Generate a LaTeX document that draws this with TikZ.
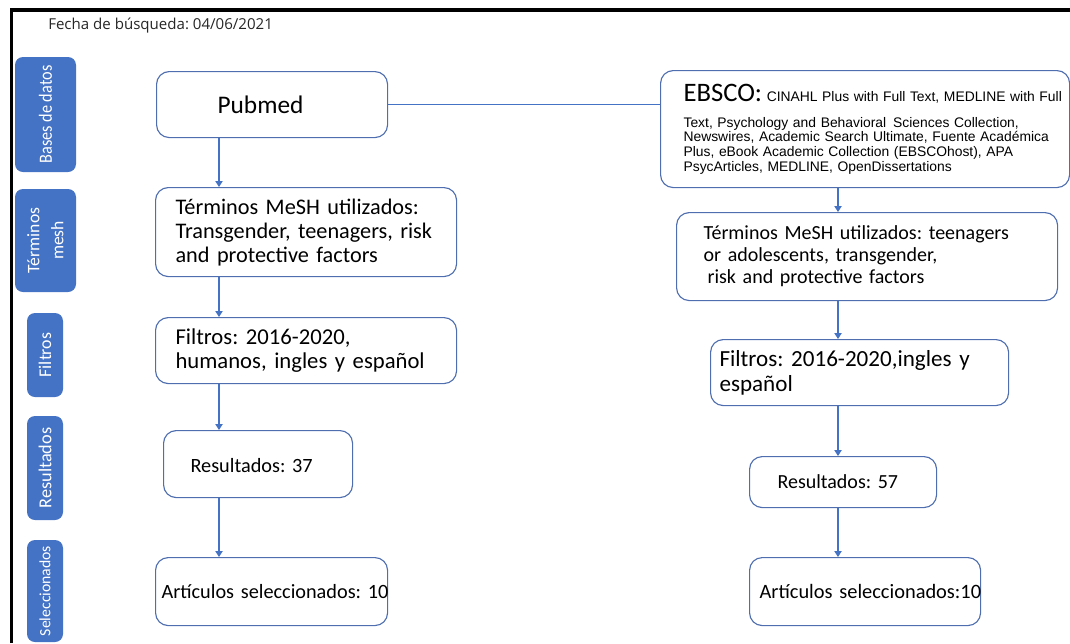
\documentclass[tikz,border=0pt]{standalone}
\usepackage{fontspec}
\usepackage{graphicx}
\setmainfont{Carlito}
\newfontfamily\arialf{Liberation Sans}
\newfontfamily\opensf{Open Sans}
\usetikzlibrary{arrows.meta}
\newcommand{\PX}{0.75pt}
\definecolor{boxblue}{RGB}{78,110,175}
\definecolor{arrowblue}{RGB}{68,114,196}
\definecolor{sideblue}{RGB}{68,114,196}
\tikzset{
  box/.style={draw=boxblue, line width=0.85pt, rounded corners=9.5pt, anchor=north west,
    inner ysep=0pt, align=left, text=black},
  side/.style={fill=sideblue, rounded corners=6pt, inner sep=0pt, text=white, align=center, rotate=90},
  arr/.style={draw=arrowblue, line width=0.8pt, -{Triangle[width=5.5pt,length=4.5pt]}},
  link/.style={draw=arrowblue, line width=0.8pt},
}
\frenchspacing
\begin{document}
\frenchspacing
\begin{tikzpicture}[x=0.75pt,y=-0.75pt]
\useasboundingbox (0,0) rectangle (1070,643);
% frame
\draw[line width=2.3pt] (11.7,643) -- (11.7,10) -- (1070,10);
% date
\node[anchor=west, inner sep=0pt, font=\opensf\fontsize{11.3}{13}\selectfont, text=black!85] (fecha) at (48,26) {Fecha de búsqueda: 04/06/2021};

% sidebar
\node[side, minimum width={115*\PX}, minimum height={61*\PX}, font=\fontsize{14}{16}\selectfont] (sb1) at (45.5,114.5)
  {\scalebox{0.87}[1]{Bases de datos}};
\node[side, minimum width={103*\PX}, minimum height={61*\PX}, font=\fontsize{13.2}{18}\selectfont] (sb2) at (45.5,240.5)
  {Términos\\mesh};
\node[side, minimum width={84*\PX}, minimum height={36*\PX}, font=\fontsize{13.4}{15}\selectfont] (sb3) at (45,355)
  {Filtros};
\node[side, minimum width={104*\PX}, minimum height={36*\PX}, font=\fontsize{13.7}{15}\selectfont] (sb4) at (45,468)
  {Resultados};
\node[side, minimum width={102*\PX}, minimum height={36*\PX}, font=\fontsize{11.8}{14}\selectfont] (sb5) at (45,591)
  {Seleccionados};

% left column
\node[box, minimum width={231*\PX}, minimum height={66*\PX}, inner xsep={61*\PX}, text width={109*\PX},
  font=\fontsize{19}{22}\selectfont] (pub) at (156,71) {\mbox{Pubmed}};
\node[box, minimum width={301*\PX}, minimum height={89*\PX}, inner xsep={20*\PX}, text width={261*\PX},
  font=\fontsize{16.7}{18}\selectfont] (terml) at (155,187)
  {\mbox{Términos MeSH utilizados:}\\\mbox{Transgender, teenagers, risk}\\\mbox{and protective factors}};
\node[box, minimum width={301*\PX}, minimum height={66*\PX}, inner xsep={20*\PX}, text width={261*\PX},
  font=\fontsize{17}{17.5}\selectfont] (filtl) at (155,317)
  {\mbox{Filtros: 2016-2020,}\\\mbox{humanos, ingles y español}};
\node[box, minimum width={189*\PX}, minimum height={67*\PX}, inner xsep={27*\PX}, text width={135*\PX},
  font=\fontsize{15.2}{17}\selectfont] (resl) at (163,430) {\mbox{\raisebox{-6.2pt}[0pt][0pt]{Resultados: 37}}};
\node[box, minimum width={232*\PX}, minimum height={68*\PX}, inner xsep={6*\PX}, text width={220*\PX},
  font=\fontsize{15.2}{17}\selectfont] (artl) at (155,557) {\mbox{Artículos seleccionados: 10}};

% right column
\node[box, minimum width={409*\PX}, minimum height={117*\PX}, inner xsep={23*\PX}, text width={363*\PX},
  font=\arialf\fontsize{10.4}{11}\selectfont] (ebsco) at (660,70)
  {\mbox{{\rmfamily\fontsize{20}{22}\selectfont EBSCO:} CINAHL Plus with Full Text, MEDLINE with Full}\\
   \mbox{\rule{0pt}{17pt}Text, Psychology and Behavioral\ \,Sciences Collection,}\\
   \mbox{Newswires, Academic Search Ultimate, Fuente Académica}\\
   \mbox{Plus, eBook Academic Collection (EBSCOhost), APA}\\
   \mbox{PsycArticles, MEDLINE, OpenDissertations}};
\node[box, minimum width={381*\PX}, minimum height={88*\PX}, inner xsep={27*\PX}, text width={327*\PX},
  font=\fontsize{15}{16.5}\selectfont] (termr) at (676,212)
  {\mbox{Términos MeSH utilizados: teenagers}\\\mbox{or adolescents, transgender,}\\\mbox{\hspace{3pt}risk and protective factors}};
\node[box, minimum width={298*\PX}, minimum height={66*\PX}, inner xsep={9*\PX}, text width={280*\PX},
  font=\fontsize{17.3}{18.7}\selectfont] (filtr) at (710,339)
  {\mbox{Filtros: 2016-2020,ingles y}\\\mbox{español}};
\node[box, minimum width={187*\PX}, minimum height={51*\PX}, inner xsep={28*\PX}, text width={131*\PX},
  font=\fontsize{15}{17}\selectfont] (resr) at (749,456) {\mbox{Resultados: 57}};
\node[box, minimum width={231*\PX}, minimum height={68*\PX}, inner xsep={10*\PX}, text width={211*\PX},
  font=\fontsize{15.3}{17}\selectfont] (artr) at (749,557) {\mbox{Artículos seleccionados:10}};

% connectors
\coordinate (lx) at (219,0);
\coordinate (rx) at (838,0);
\draw[link] (pub.east) -- (pub.east -| ebsco.west);
\draw[arr] (pub.south -| lx) -- (terml.north -| lx);
\draw[arr] (terml.south -| lx) -- (filtl.north -| lx);
\draw[arr] (filtl.south -| lx) -- (resl.north -| lx);
\draw[arr] (resl.south -| lx) -- (artl.north -| lx);
\draw[arr] (ebsco.south -| rx) -- (termr.north -| rx);
\draw[arr] (termr.south -| rx) -- (filtr.north -| rx);
\draw[arr] (filtr.south -| rx) -- (resr.north -| rx);
\draw[arr] (resr.south -| rx) -- (artr.north -| rx);
\end{tikzpicture}
\end{document}
